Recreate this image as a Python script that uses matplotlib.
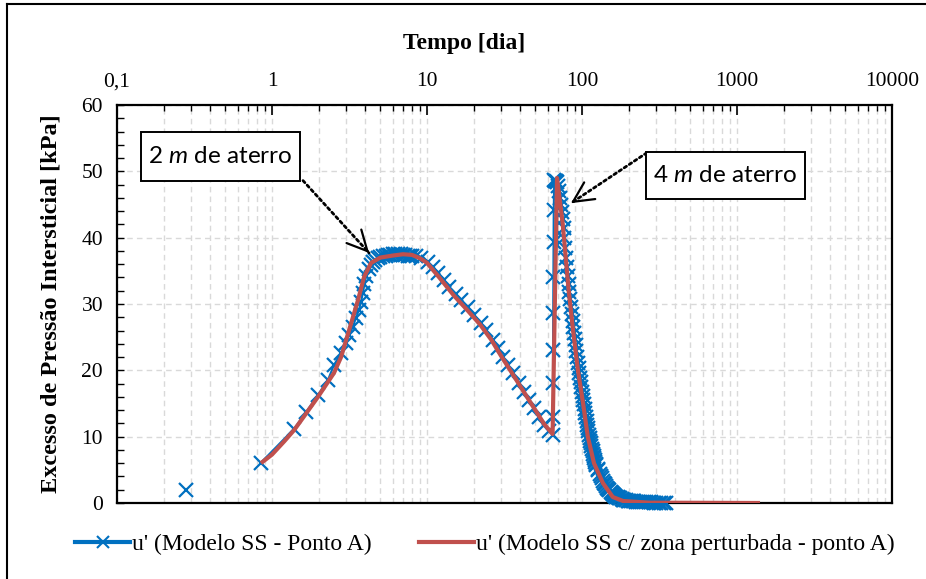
import matplotlib
matplotlib.use("Agg")
import matplotlib.pyplot as plt
from matplotlib import rcParams
from matplotlib.lines import Line2D
from matplotlib.patches import Rectangle
import numpy as np

# u' (Modelo SS - Ponto A): time [dia], excess pore pressure [kPa]
blue_t = [0.28, 0.85, 1.39, 1.66, 1.98, 2.30, 2.51, 2.79, 3.00, 3.14, 3.33, 3.48,
          3.64, 3.75, 3.86, 3.95, 4.05, 4.2, 4.35, 4.5, 4.65, 4.8, 5.0, 5.2, 5.4,
          5.6, 5.8, 6.0, 6.25, 6.5, 6.75, 7.0, 7.25, 7.5, 7.75, 8.0, 8.5, 9.15,
          10.1, 10.9, 11.8, 12.9, 13.9, 15.4, 16.6, 18.4, 20.1, 22.3, 24.0, 26.7,
          28.7, 30.9, 33.3, 35.9, 39.3, 42.3, 45.5, 49.0, 52.8, 56.9, 61.2, 64.8,
          65.0, 65.0, 65.0, 65.2, 65.3, 65.5, 65.7, 66.2,
          67, 68, 69, 70, 71, 72, 73, 74, 75, 76, 77, 78, 79, 80, 81, 82, 83, 84,
          85, 86, 87, 88, 89, 90, 91, 92, 93, 94, 95, 96, 97, 98, 99, 100, 101,
          102, 103, 104, 105, 106, 107, 108, 109, 110, 111, 112, 113, 114, 115,
          116, 117, 118, 119, 120, 121, 122, 123, 124, 126, 127, 130, 132, 134,
          137, 139, 141, 143, 145, 148, 150, 153, 155, 158, 160, 163, 166, 170,
          173, 177, 180, 184, 188, 192, 197, 202, 207, 212, 218, 224, 230, 237,
          245, 252, 260, 270, 280, 290, 300, 312, 325, 337, 350]
blue_u = [1.9, 6.1, 11.2, 13.7, 16.3, 18.6, 20.8, 22.6, 24.1, 25.3, 26.6, 27.9,
          29.1, 30.3, 31.7, 33.0, 34.2, 35.3, 35.9, 36.4, 36.7, 36.9, 37.1, 37.2, 37.3,
          37.4, 37.4, 37.5, 37.5, 37.5, 37.5, 37.4, 37.4, 37.3, 37.3, 37.3, 37.2, 37.0,
          36.3, 35.6, 34.7, 33.6, 32.6, 31.5, 30.6, 29.5, 28.4, 27.1, 26.1, 24.6,
          23.4, 22.0, 20.8, 19.6, 18.1, 16.7, 15.5, 14.3, 13.0, 11.8, 10.8, 10.3,
          13.0, 18.1, 23.1, 28.7, 34.1, 39.4, 44.2, 48.7,
          48.6, 48.6, 48.4, 47.8, 47.0, 46.0, 45.0, 43.9, 42.8, 41.4, 40.0, 38.5,
          37.0, 35.6, 34.2, 33.0, 31.8, 30.7, 29.6, 28.5, 27.5, 26.5, 25.6, 24.7,
          23.8, 22.9, 22.0, 21.1, 20.3, 19.6, 18.9, 18.2, 17.5, 16.8, 16.2, 15.5,
          14.9, 14.2, 13.6, 13.0, 12.4, 11.8, 11.3, 10.8, 10.3, 9.8, 9.4, 9.0,
          8.6, 8.2, 7.8, 7.4, 7.1, 6.8, 6.5, 6.2, 5.9, 5.7, 5.2, 5.0, 4.4, 4.0,
          3.7, 3.3, 3.0, 2.8, 2.5, 2.3, 2.1, 1.9, 1.7, 1.5, 1.35, 1.2, 1.1, 0.95,
          0.85, 0.75, 0.68, 0.6, 0.52, 0.45, 0.4, 0.35, 0.32, 0.3, 0.27, 0.25,
          0.22, 0.2, 0.18, 0.15, 0.12, 0.1, 0.09, 0.08, 0.06, 0.05, 0.05, 0.05,
          0.03, 0.02]

# u' (Modelo SS c/ zona perturbada - ponto A)
red_t = [0.87, 1.0, 1.2, 1.39, 1.66, 1.98, 2.51, 2.79, 3.24, 3.59, 3.93, 4.36,
         5.0, 6.0, 7.0, 8.0, 9.0, 10.0, 12.0, 15.0, 18.0, 22.0, 26.0, 30.0, 36.0,
         42.0, 50.0, 57.0, 64.6, 69.0, 75.0, 82.0, 87.5, 94.0, 101.5, 109.0,
         119.5, 136.5, 158.0, 184.0, 270.0, 1365.0]
red_u = [6.2, 7.3, 9.3, 11.0, 13.5, 16.0, 19.6, 22.0, 27.1, 30.6, 34.1, 36.2,
         37.0, 37.3, 37.5, 37.4, 36.9, 36.2, 34.0, 31.2, 29.2, 26.9, 24.6, 22.2,
         19.3, 16.8, 14.0, 11.9, 10.4, 49.0, 42.2, 32.1, 26.1, 20.1, 15.1, 10.0,
         6.0, 3.0, 0.9, 0.3, 0.05, 0.0]

XTICKS = [0.1, 1, 10, 100, 1000, 10000]
XTICK_LABELS = ["0,1", "1", "10", "100", "1000", "10000"]

BLUE = "#0070C0"
RED = "#C0504D"
GRID = "#D9D9D9"
W, H = 926, 579

rcParams["font.family"] = "Liberation Serif"
rcParams["mathtext.fontset"] = "custom"
rcParams["mathtext.rm"] = "Lato"
rcParams["mathtext.it"] = "Lato:italic"

fig = plt.figure(figsize=(W / 100, H / 100), dpi=100)
ax = fig.add_axes([117 / W, 76 / H, 775 / W, 398 / H])

ax.plot(blue_t[1:], blue_u[1:], color=BLUE, lw=1.5, zorder=3)
ax.plot(blue_t, blue_u, ls="none", marker="x", ms=9.5, mew=1.6, color=BLUE,
        zorder=3, clip_on=False)
ax.plot(red_t, red_u, color=RED, lw=3.0, zorder=4)

ax.set_xscale("log")
ax.set_xlim(0.1, 10000)
ax.set_ylim(0, 60)
ax.xaxis.tick_top()
ax.xaxis.set_label_position("top")
ax.set_xticks(XTICKS)
ax.set_xticklabels(XTICK_LABELS)
ax.xaxis.set_minor_locator(matplotlib.ticker.LogLocator(base=10, subs=np.arange(2, 10)))
ax.xaxis.set_minor_formatter(matplotlib.ticker.NullFormatter())
ax.set_yticks(np.arange(0, 61, 10))
ax.yaxis.set_minor_locator(matplotlib.ticker.MultipleLocator(2))

ax.tick_params(axis="x", which="major", direction="in", length=7, width=1.2, labelsize=15.5, pad=10)
ax.tick_params(axis="x", which="minor", direction="in", length=4, width=1.0)
ax.tick_params(axis="y", which="both", direction="in", length=5, width=1.0, labelsize=15.5, pad=10)

ax.grid(which="both", axis="x", color=GRID, ls=(0, (4, 3)), lw=1.0)
ax.grid(which="major", axis="y", color=GRID, ls=(0, (4, 3)), lw=1.0)
ax.set_axisbelow(True)
for sp in ax.spines.values():
    sp.set_linewidth(1.6)
    sp.set_color("black")

ax.set_xlabel("Tempo [dia]", fontsize=17, fontweight="bold")
ax.xaxis.set_label_coords(0.448, 1.14)
ax.set_ylabel("Excesso de Pressão Intersticial [kPa]", fontsize=17.5, fontweight="bold")
ax.yaxis.set_label_coords(-0.071, 0.5)


def dotted_arrow(tail, tip):
    ax.annotate("", xy=tip, xytext=tail,
                arrowprops=dict(arrowstyle="-", ls=(0, (1, 1.2)), lw=2.0, color="black",
                                shrinkA=0, shrinkB=0), zorder=6)
    p_tip = ax.transData.transform(tip)
    p_tail = ax.transData.transform(tail)
    d = (p_tip - p_tail) / np.hypot(*(p_tip - p_tail))
    start = ax.transData.inverted().transform(p_tip - d * 3)
    ax.annotate("", xy=tip, xytext=tuple(start),
                arrowprops=dict(arrowstyle="->,head_length=0.9,head_width=0.45",
                                lw=1.6, color="black", mutation_scale=16,
                                shrinkA=0, shrinkB=0), zorder=6)


def label_box(x0, y0, x1, y1, text):
    # box given in image pixels (top-left origin)
    fig.add_artist(Rectangle((x0 / W, 1 - y1 / H), (x1 - x0) / W, (y1 - y0) / H,
                             transform=fig.transFigure, fc="white", ec="black",
                             lw=1.4, zorder=7))
    fig.text((x0 + x1) / 2 / W, 1 - (y0 + y1) / 2 / H, text, fontsize=17.5,
             family="Lato", ha="center", va="center", zorder=8)


dotted_arrow((1.585, 48.6), (4.23, 37.7))
dotted_arrow((262, 52.8), (84.9, 45.2))
label_box(141, 132, 300, 181, r"$\mathit{2\ m}$ de aterro")
label_box(646, 152, 805, 199, r"$\mathit{4\ m}$ de aterro")

handles = [
    Line2D([0], [0], color=BLUE, lw=3, marker="x", ms=8, mew=1.5),
    Line2D([0], [0], color=RED, lw=3),
]
labels = ["u' (Modelo SS - Ponto A)", "u' (Modelo SS c/ zona perturbada - ponto A)"]
fig.legend(handles, labels, loc="center", bbox_to_anchor=(0.524, 0.06), ncol=2,
           frameon=False, fontsize=17, handlelength=2.3, handletextpad=0.12,
           columnspacing=2.0)

# outer frame (left and top edges visible)
fig.add_artist(Line2D([7 / W, 7 / W], [0, 1 - 4 / H], transform=fig.transFigure,
                      color="black", lw=1.5))
fig.add_artist(Line2D([7 / W, 1], [1 - 4 / H, 1 - 4 / H], transform=fig.transFigure,
                      color="black", lw=1.5))

fig.savefig("out.png", dpi=100)
